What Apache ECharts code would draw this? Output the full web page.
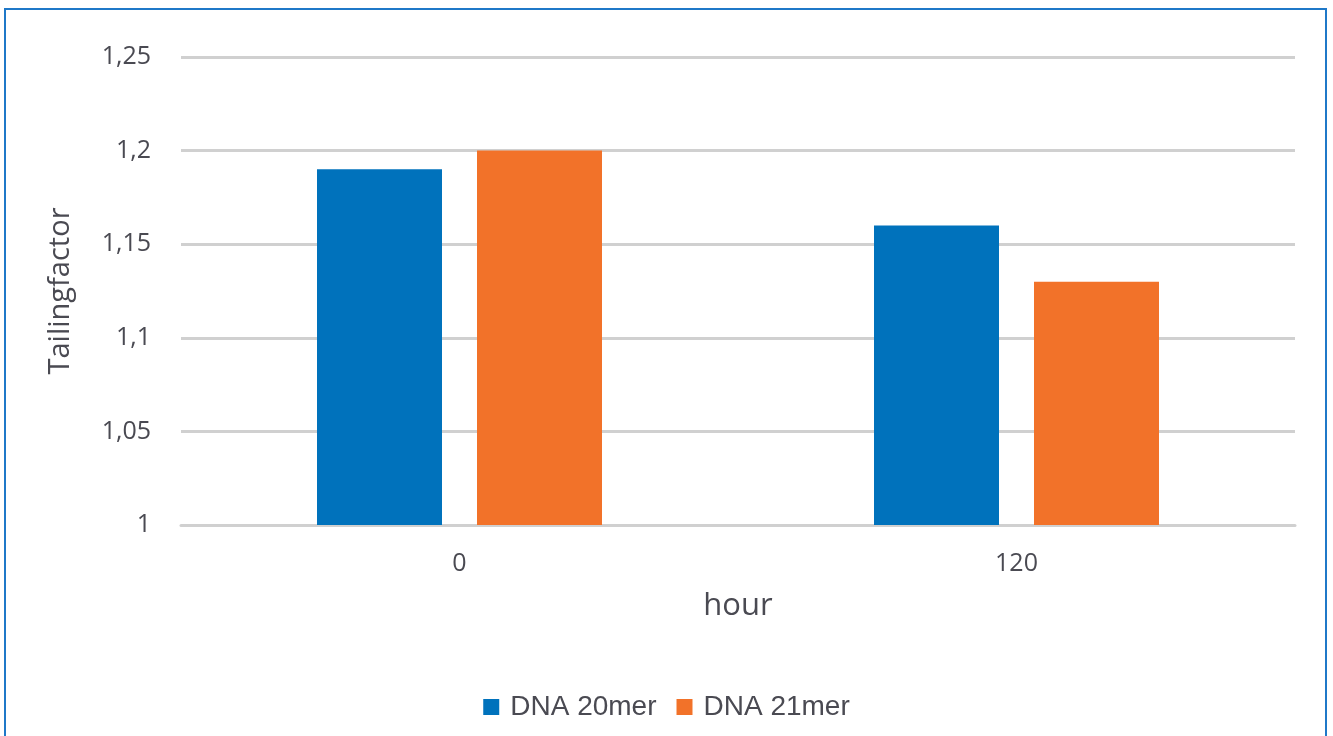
<!DOCTYPE html>
<html>
<head>
<meta charset="utf-8">
<script src="https://cdn.jsdelivr.net/npm/echarts@6/dist/echarts.min.js"></script>
<style>
  html, body { margin: 0; padding: 0; background: #fff; }
  #chart { width: 1333px; height: 736px; }
</style>
</head>
<body>
<div id="chart"></div>
<script>
// Tailing factor of two DNA oligos at 0 h and 120 h
const hours = ['0', '120'];
const dna20mer = [1.19, 1.16];
const dna21mer = [1.20, 1.13];
const seriesNames = ['DNA 20mer', 'DNA 21mer'];

const textColor = '#4a4a52';
const gridColor = '#d0d0d0';

const chart = echarts.init(document.getElementById('chart'), null, { renderer: 'canvas' });

chart.setOption({
  backgroundColor: '#ffffff',
  animation: false,
  graphic: [{
    type: 'rect',
    shape: { x: 5, y: 9, width: 1321, height: 760 },
    style: { fill: 'none', stroke: '#1f78c8', lineWidth: 2 },
    silent: true
  }],
  grid: { left: 181, right: 38, top: 57, bottom: 211 },
  legend: {
    data: seriesNames,
    bottom: 10,
    left: 'center',
    itemWidth: 16,
    itemHeight: 16,
    itemGap: 20,
    icon: 'rect',
    textStyle: { fontFamily: 'Liberation Sans', fontSize: 28, color: textColor, padding: [0, 0, 0, 6] }
  },
  xAxis: {
    type: 'category',
    data: hours,
    name: 'hour',
    nameLocation: 'middle',
    nameGap: 66,
    nameTextStyle: { fontFamily: 'Open Sans', fontSize: 31, color: textColor },
    axisLine: { show: true, lineStyle: { color: gridColor, width: 3 } },
    axisTick: { show: false },
    axisLabel: { fontFamily: 'Open Sans', fontSize: 25, color: textColor, margin: 26 }
  },
  yAxis: {
    type: 'value',
    min: 1,
    max: 1.25,
    interval: 0.05,
    name: 'Tailingfactor',
    nameLocation: 'middle',
    nameGap: 106,
    nameRotate: 90,
    nameTextStyle: { fontFamily: 'Open Sans', fontSize: 29, color: textColor },
    axisLine: { show: false },
    axisTick: { show: false },
    axisLabel: {
      fontFamily: 'Open Sans', fontSize: 25, color: textColor, margin: 30,
      formatter: v => String(Math.round(v * 100) / 100).replace('.', ',')
    },
    splitLine: { lineStyle: { color: gridColor, width: 3 } }
  },
  series: [
    {
      name: seriesNames[0],
      type: 'bar',
      data: dna20mer,
      barWidth: 125,
      barGap: '28%',
      itemStyle: { color: '#0072bc' }
    },
    {
      name: seriesNames[1],
      type: 'bar',
      data: dna21mer,
      barWidth: 125,
      barGap: '28%',
      itemStyle: { color: '#f27229' }
    }
  ]
});
</script>
</body>
</html>
